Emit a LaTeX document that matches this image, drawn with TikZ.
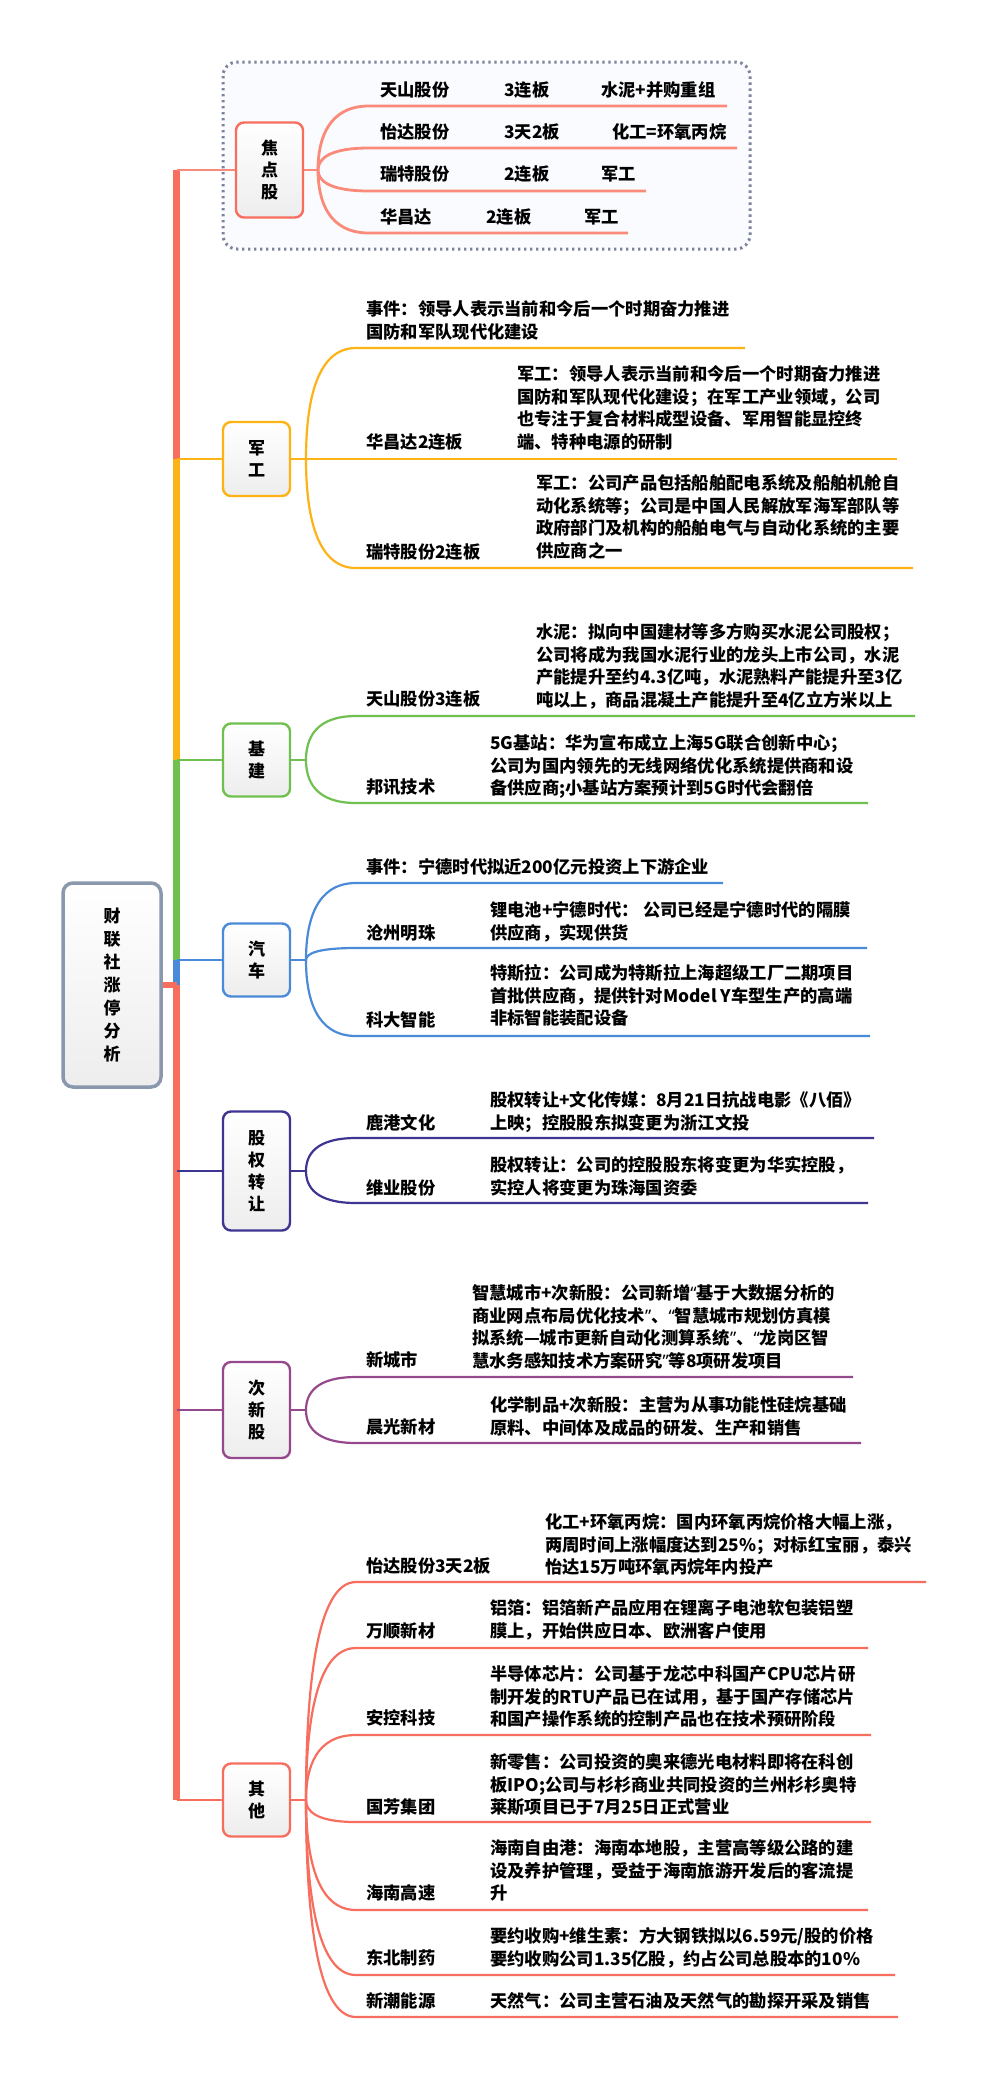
\documentclass[tikz,border=0pt]{standalone}
\usepackage{fontspec}
\setmainfont{Noto Sans CJK SC}
\newfontfamily\mmlatin{Noto Sans}
\usetikzlibrary{calc}
\definecolor{cred}{RGB}{248,110,94}
\definecolor{cred2}{RGB}{250,138,122}
\definecolor{cyel}{RGB}{253,178,22}
\definecolor{cgrn}{RGB}{112,192,80}
\definecolor{cblu}{RGB}{74,138,216}
\definecolor{cpur}{RGB}{62,52,146}
\definecolor{cmag}{RGB}{150,72,140}
\definecolor{cgry}{RGB}{138,152,174}
\definecolor{cdot}{RGB}{122,132,156}
\definecolor{cfrm}{RGB}{250,251,254}
\newcommand{\mmtxt}{\fontsize{17.3}{22.5}\selectfont\bfseries}
\newcommand{\mmcat}{\fontsize{17}{22}\selectfont\bfseries}
\newcommand{\mmlq}{{\mmlatin\bfseries “}}
\newcommand{\mmrq}{{\mmlatin\bfseries ”}}
\newcommand{\mmkid}[6]{%
  \coordinate (#1s) at (#3,#4);
  \coordinate (#1e) at (#5,#4);
  \draw[#6] (#2) .. controls ($(#2)!0.5!(#2|-#1s)$) and ($(#1s)+(-40,0)$) .. (#1s) -- (#1e);
}
\newcommand{\mmpar}[1]{\parbox[t]{470pt}{#1}}
\begin{document}
\begin{tikzpicture}[x=1pt,y=-1pt,
  catbox/.style={draw=#1, line width=2.4pt, rounded corners=8pt, top color=white, bottom color=black!7, minimum width=67pt, inner sep=0pt, align=center, font=\mmcat},
  trunk/.style={line width=7pt, line cap=butt},
  conn/.style={draw=#1, line width=1.6pt},
  kid/.style={draw=#1, line width=2.2pt},
  kidj/.style={draw=#1, line width=2.8pt},
  lbl/.style={anchor=base west, inner sep=0pt, font=\mmtxt}]
\fill[white] (0,0) rectangle (983,2081);
\useasboundingbox (0,0) rectangle (983,2081);

% focus frame
\draw[cdot, fill=cfrm, line width=3pt, dash pattern=on 2.4pt off 3.6pt, rounded corners=14pt] (223,62) rectangle (750,249);

% trunk coordinates
\coordinate (t0) at (176.5,170);
\coordinate (t1) at (176.5,459);
\coordinate (t2) at (176.5,760);
\coordinate (t3) at (176.5,960);
\coordinate (tr) at (176.5,985);
\coordinate (t5) at (176.5,1171);
\coordinate (t6) at (176.5,1410);
\coordinate (t4) at (176.5,1800);

% root
\node[draw=cgry, line width=3.5pt, rounded corners=10pt, top color=white, bottom color=black!7, minimum width=98pt, minimum height=204pt, inner sep=0pt, align=center, font=\fontsize{17}{23}\selectfont\bfseries] (root) at (112,985) {财\\联\\社\\涨\\停\\分\\析};

% category boxes
\node[catbox=cred, minimum height=95pt] (jd) at (269.5,170) {焦\\点\\股};
\node[catbox=cyel, minimum height=74pt] (jg) at (256.5,459) {军\\工};
\node[catbox=cgrn, minimum height=73pt] (jj) at (256.5,760) {基\\建};
\node[catbox=cblu, minimum height=73pt] (qc) at (256.5,960) {汽\\车};
\node[catbox=cpur, minimum height=119pt] (gq) at (256.5,1171) {股\\权\\转\\让};
\node[catbox=cmag, minimum height=96pt] (cx) at (256.5,1410) {次\\新\\股};
\node[catbox=cred, minimum height=73pt] (qt) at (256.5,1800) {其\\他};

% trunk
\draw[trunk, cred] (t0) -- (t1);
\draw[trunk, cyel] (t1) -- (t2);
\draw[trunk, cgrn] (t2) -- (t3);
\draw[trunk, cblu] (t3) -- (tr);
\draw[trunk, cred] (tr) -- (t4);
\draw[line width=6pt, cred] (root.east) -- (tr);

% thin connectors trunk -> boxes
\draw[conn=cred2] (t0) -- (jd.west);
\draw[conn=cyel] (t1) -- (jg.west);
\draw[conn=cgrn] (t2) -- (jj.west);
\draw[conn=cblu] (t3) -- (qc.west);
\draw[conn=cpur] (t5) -- (gq.west);
\draw[conn=cmag] (t6) -- (cx.west);
\draw[conn=cred] (t4) -- (qt.west);

% forks
\coordinate (jdf) at (318,170);
\coordinate (jgf) at (306,459);
\coordinate (jjf) at (306,760);
\coordinate (qcf) at (306,960);
\coordinate (gqf) at (306,1171);
\coordinate (cxf) at (306,1410);
\coordinate (qtf) at (306,1800);
\draw[conn=cred2, line width=2.4pt] (jd.east) -- (jdf);
\draw[conn=cyel, line width=2pt] (jg.east) -- (jgf);
\draw[conn=cgrn, line width=2pt] (jj.east) -- (jjf);
\draw[conn=cblu, line width=2pt] (qc.east) -- (qcf);
\draw[conn=cpur, line width=2pt] (gq.east) -- (gqf);
\draw[conn=cmag, line width=2pt] (cx.east) -- (cxf);
\draw[conn=cred, line width=2pt] (qt.east) -- (qtf);

% ---------- focus children
\mmkid{a1}{jdf}{369}{106}{727}{kidj=cred2}
\mmkid{a2}{jdf}{369}{148}{737}{kidj=cred2}
\mmkid{a3}{jdf}{369}{191}{646}{kidj=cred2}
\mmkid{a4}{jdf}{369}{233}{628}{kidj=cred2}
\node[lbl] (a1n) at (380,96.5) {天山股份};
\node[lbl] (a1b) at (504,96.5) {3连板};
\node[lbl] (a1c) at (601,96.5) {水泥+并购重组};
\node[lbl] (a2n) at (380,138.5) {怡达股份};
\node[lbl] (a2b) at (504,138.5) {3天2板};
\node[lbl] (a2c) at (612,138.5) {化工=环氧丙烷};
\node[lbl] (a3n) at (380,180.5) {瑞特股份};
\node[lbl] (a3b) at (504,180.5) {2连板};
\node[lbl] (a3c) at (601,180.5) {军工};
\node[lbl] (a4n) at (380,223.5) {华昌达};
\node[lbl] (a4b) at (486,223.5) {2连板};
\node[lbl] (a4c) at (584,223.5) {军工};

% ---------- 军工
\mmkid{b1}{jgf}{356}{348}{745}{kid=cyel}
\mmkid{b2}{jgf}{356}{459}{897}{kid=cyel}
\mmkid{b3}{jgf}{356}{568}{913}{kid=cyel}
\node[lbl] (b1d) at (366,315.5) {\mmpar{事件：领导人表示当前和今后一个时期奋力推进\\国防和军队现代化建设}};
\node[lbl] (b2n) at (366,448.5) {华昌达2连板};
\node[lbl] (b2d) at (517,380.5) {\mmpar{军工：领导人表示当前和今后一个时期奋力推进\\国防和军队现代化建设；在军工产业领域，公司\\也专注于复合材料成型设备、军用智能显控终\\端、特种电源的研制}};
\node[lbl] (b3n) at (366,558.5) {瑞特股份2连板};
\node[lbl] (b3d) at (536,489.5) {\mmpar{军工：公司产品包括船舶配电系统及船舶机舱自\\动化系统等；公司是中国人民解放军海军部队等\\政府部门及机构的船舶电气与自动化系统的主要\\供应商之一}};

% ---------- 基建
\mmkid{c1}{jjf}{356}{716}{915}{kid=cgrn}
\mmkid{c2}{jjf}{356}{803}{868}{kid=cgrn}
\node[lbl] (c1n) at (366,705.5) {天山股份3连板};
\node[lbl] (c1d) at (536,638.5) {\mmpar{水泥：拟向中国建材等多方购买水泥公司股权；\\公司将成为我国水泥行业的龙头上市公司，水泥\\产能提升至约4.3亿吨，水泥熟料产能提升至3亿\\吨以上，商品混凝土产能提升至4亿立方米以上}};
\node[lbl] (c2n) at (366,793.5) {邦讯技术};
\node[lbl] (c2d) at (490,749.5) {\mmpar{5G基站：华为宣布成立上海5G联合创新中心；\\公司为国内领先的无线网络优化系统提供商和设\\备供应商;小基站方案预计到5G时代会翻倍}};

% ---------- 汽车
\mmkid{d1}{qcf}{356}{883}{723}{kid=cblu}
\mmkid{d2}{qcf}{356}{948}{867}{kid=cblu}
\mmkid{d3}{qcf}{356}{1036}{870}{kid=cblu}
\node[lbl] (d1d) at (366,873.5) {事件：宁德时代拟近200亿元投资上下游企业};
\node[lbl] (d2n) at (366,939.5) {沧州明珠};
\node[lbl] (d2d) at (490,916.5) {\mmpar{锂电池+宁德时代： 公司已经是宁德时代的隔膜\\供应商，实现供货}};
\node[lbl] (d3n) at (366,1026.5) {科大智能};
\node[lbl] (d3d) at (490,979.5) {\mmpar{特斯拉：公司成为特斯拉上海超级工厂二期项目\\首批供应商，提供针对Model Y车型生产的高端\\非标智能装配设备}};

% ---------- 股权转让
\mmkid{e1}{gqf}{356}{1138}{874}{kid=cpur}
\mmkid{e2}{gqf}{356}{1203}{868}{kid=cpur}
\node[lbl] (e1n) at (366,1129.5) {鹿港文化};
\node[lbl] (e1d) at (490,1106.5) {\mmpar{股权转让+文化传媒：8月21日抗战电影《八佰》\\上映；控股股东拟变更为浙江文投}};
\node[lbl] (e2n) at (366,1194.5) {维业股份};
\node[lbl] (e2d) at (490,1171.5) {\mmpar{股权转让：公司的控股股东将变更为华实控股，\\实控人将变更为珠海国资委}};

% ---------- 次新股
\mmkid{f1}{cxf}{356}{1377}{853}{kid=cmag}
\mmkid{f2}{cxf}{356}{1443}{861}{kid=cmag}
\node[lbl] (f1n) at (366,1366.5) {新城市};
\node[lbl] (f1d) at (472,1299.5) {\mmpar{智慧城市+次新股：公司新增\mmlq 基于大数据分析的\\商业网点布局优化技术\mmrq 、\mmlq 智慧城市规划仿真模\\拟系统—城市更新自动化测算系统\mmrq 、\mmlq 龙岗区智\\慧水务感知技术方案研究\mmrq 等8项研发项目}};
\node[lbl] (f2n) at (366,1433.5) {晨光新材};
\node[lbl] (f2d) at (490,1411.5) {\mmpar{化学制品+次新股：主营为从事功能性硅烷基础\\原料、中间体及成品的研发、生产和销售}};

% ---------- 其他
\mmkid{g1}{qtf}{356}{1582}{926}{kid=cred}
\mmkid{g2}{qtf}{356}{1648}{868}{kid=cred}
\mmkid{g3}{qtf}{356}{1735}{871}{kid=cred}
\mmkid{g4}{qtf}{356}{1822}{871}{kid=cred}
\mmkid{g5}{qtf}{356}{1910}{868}{kid=cred}
\mmkid{g6}{qtf}{356}{1975}{895}{kid=cred}
\mmkid{g7}{qtf}{356}{2017}{898}{kid=cred}
\node[lbl] (g1n) at (366,1572.5) {怡达股份3天2板};
\node[lbl] (g1d) at (545,1528.5) {\mmpar{化工+环氧丙烷：国内环氧丙烷价格大幅上涨，\\两周时间上涨幅度达到25\%；对标红宝丽，泰兴\\怡达15万吨环氧丙烷年内投产}};
\node[lbl] (g2n) at (366,1637.5) {万顺新材};
\node[lbl] (g2d) at (490,1614.5) {\mmpar{铝箔：铝箔新产品应用在锂离子电池软包装铝塑\\膜上，开始供应日本、欧洲客户使用}};
\node[lbl] (g3n) at (366,1724.5) {安控科技};
\node[lbl] (g3d) at (490,1680.5) {\mmpar{半导体芯片：公司基于龙芯中科国产CPU芯片研\\制开发的RTU产品已在试用，基于国产存储芯片\\和国产操作系统的控制产品也在技术预研阶段}};
\node[lbl] (g4n) at (366,1813.5) {国芳集团};
\node[lbl] (g4d) at (490,1768.5) {\mmpar{新零售：公司投资的奥来德光电材料即将在科创\\板IPO;公司与杉杉商业共同投资的兰州杉杉奥特\\莱斯项目已于7月25日正式营业}};
\node[lbl] (g5n) at (366,1899.5) {海南高速};
\node[lbl] (g5d) at (490,1854.5) {\mmpar{海南自由港：海南本地股，主营高等级公路的建\\设及养护管理，受益于海南旅游开发后的客流提\\升}};
\node[lbl] (g6n) at (366,1964.5) {东北制药};
\node[lbl] (g6d) at (490,1942.5) {\mmpar{要约收购+维生素：方大钢铁拟以6.59元/股的价格\\要约收购公司1.35亿股，约占公司总股本的10\%}};
\node[lbl] (g7n) at (366,2007.5) {新潮能源};
\node[lbl] (g7d) at (490,2007.5) {天然气：公司主营石油及天然气的勘探开采及销售};
\end{tikzpicture}
\end{document}
